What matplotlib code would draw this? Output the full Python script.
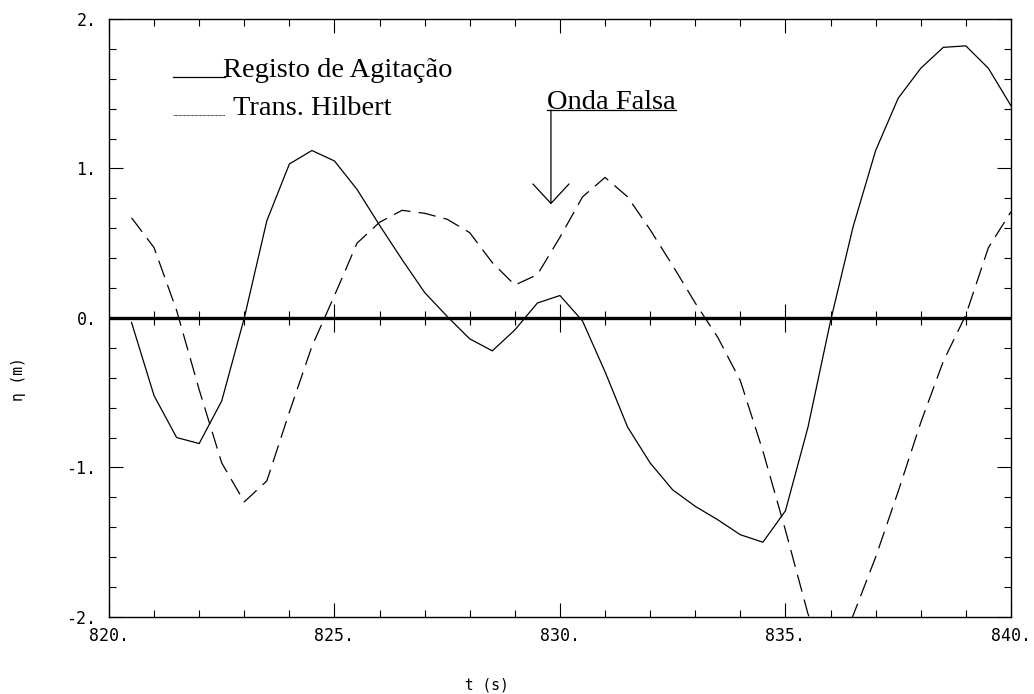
import matplotlib
matplotlib.use("Agg")
import matplotlib.pyplot as plt
from matplotlib.ticker import MultipleLocator, FuncFormatter
from matplotlib.lines import Line2D

# tempos (s)
t = [820.5, 821.0, 821.5, 822.0, 822.5, 823.0, 823.5, 824.0, 824.5, 825.0,
     825.5, 826.0, 826.5, 827.0, 827.5, 828.0, 828.5, 829.0, 829.5, 830.0,
     830.5, 831.0, 831.5, 832.0, 832.5, 833.0, 833.5, 834.0, 834.5, 835.0,
     835.5, 836.0, 836.5, 837.0, 837.5, 838.0, 838.5, 839.0, 839.5, 840.0]

# registo de agitacao (m)
registo = [-0.03, -0.52, -0.80, -0.84, -0.555, 0.00, 0.65, 1.03, 1.12, 1.05,
           0.86, 0.62, 0.39, 0.17, 0.01, -0.14, -0.22, -0.08, 0.10, 0.15,
           -0.02, -0.36, -0.73, -0.97, -1.15, -1.26, -1.35, -1.45, -1.50, -1.29,
           -0.73, -0.02, 0.61, 1.12, 1.47, 1.67, 1.81, 1.82, 1.67, 1.42]

# transformada de Hilbert (m)
hilbert = [0.67, 0.47, 0.05, -0.48, -0.97, -1.23, -1.09, -0.63, -0.19, 0.15,
           0.50, 0.64, 0.72, 0.70, 0.66, 0.57, 0.37, 0.22, 0.29, 0.54,
           0.81, 0.94, 0.81, 0.59, 0.35, 0.10, -0.13, -0.42, -0.89, -1.42,
           -1.98, -2.35, -1.99, -1.60, -1.16, -0.70, -0.29, 0.02, 0.47, 0.71]

x_major = [820, 825, 830, 835, 840]
y_major = [-2, -1, 0, 1, 2]

mono = 'DejaVu Sans Mono'
serif = 'Liberation Serif'

fig = plt.figure(figsize=(10.34, 6.94), dpi=100)
ax = fig.add_axes([0.1054, 0.1110, 0.8723, 0.8617])

ax.plot(t, registo, color='black', lw=0.9)
ax.plot(t, hilbert, color='black', lw=0.9, dashes=(14, 6.5))
ax.axhline(0, color='black', lw=2.4, zorder=3)

ax.set_xlim(820, 840)
ax.set_ylim(-2, 2)
ax.set_xticks(x_major)
ax.set_yticks(y_major)
ax.xaxis.set_minor_locator(MultipleLocator(1))
ax.yaxis.set_minor_locator(MultipleLocator(0.2))
ax.xaxis.set_major_formatter(FuncFormatter(lambda v, p: f"{v:.0f}."))
ax.yaxis.set_major_formatter(FuncFormatter(lambda v, p: f"{v:.0f}."))

ax.tick_params(which='both', direction='in', top=True, right=True,
               width=0.8, labelsize=12, labelfontfamily=mono)
ax.tick_params(which='major', length=10)
ax.tick_params(which='minor', length=5)
ax.tick_params(axis='x', pad=7)
ax.tick_params(axis='y', pad=9)
for s in ax.spines.values():
    s.set_linewidth(1.0)

# marcas sobre a linha do zero
minor_x = [v for v in range(821, 840) if v % 5 != 0]
ax.plot(x_major[1:-1], [0] * 3, ls='none', marker='|', ms=20, mew=0.8,
        color='black', zorder=4)
ax.plot(minor_x, [0] * len(minor_x), ls='none', marker='|', ms=10, mew=0.8,
        color='black', zorder=4)

# legenda
tr = ax.transAxes
ax.add_line(Line2D([0.0709, 0.1286], [0.9029, 0.9029], transform=tr,
                   color='black', lw=0.9))
ax.text(0.1264, 0.9029, 'Registo de Agitação', transform=tr, family=serif,
        size=20.5, va='baseline', ha='left')
ax.add_line(Line2D([0.0709, 0.1286], [0.8395, 0.8395], transform=tr,
                   color='black', lw=0.6, ls=(0, (1, 0.6))))
ax.text(0.1375, 0.8395, 'Trans. Hilbert', transform=tr, family=serif,
        size=20.5, va='baseline', ha='left')

# onda falsa
txt = ax.text(829.71, 1.40, 'Onda Falsa', family=serif, size=20.5,
              va='baseline', ha='left')
fig.canvas.draw()
bb = txt.get_window_extent().transformed(ax.transData.inverted())
ax.plot([bb.x0, bb.x1], [1.39, 1.39], color='black', lw=0.9)
ax.annotate('', xy=(829.8, 0.76), xytext=(829.8, 1.39),
            arrowprops=dict(arrowstyle='->,head_length=1.4,head_width=1.3',
                            mutation_scale=10, lw=0.9, color='black',
                            shrinkA=0, shrinkB=0))

fig.text(487 / 1034, 1 - 685 / 694, 't (s)', family=mono, size=10.5,
         ha='center', va='center')
fig.text(19 / 1034, 1 - 379 / 694, 'η (m)', family=mono, size=10.5,
         rotation=90, ha='center', va='center')

fig.savefig('out.png', dpi=100)
